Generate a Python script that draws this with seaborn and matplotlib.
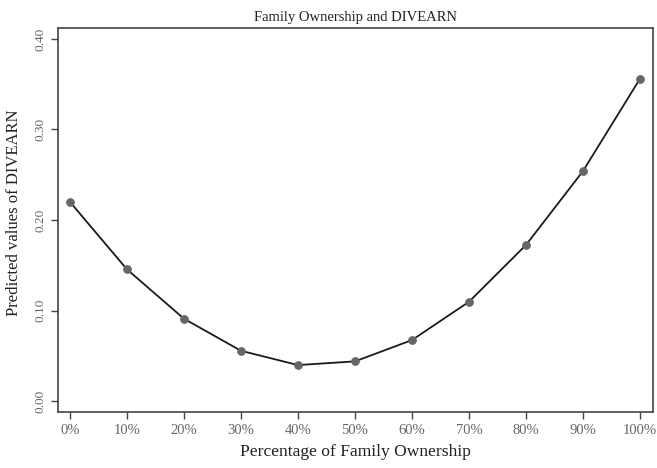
# Family ownership vs predicted DIVEARN
import matplotlib
matplotlib.use('Agg')
import matplotlib.pyplot as plt
import seaborn as sns
import pandas as pd

ownership = [0, 10, 20, 30, 40, 50, 60, 70, 80, 90, 100]
divearn = [0.220, 0.1455, 0.091, 0.0556, 0.0398, 0.0439, 0.0674, 0.1097, 0.1724, 0.254, 0.356]
x_labels = [f'{v}%' for v in ownership]
y_ticks = [0.0, 0.1, 0.2, 0.3, 0.4]

df = pd.DataFrame({'own': ownership, 'divearn': divearn})

sns.set_style('ticks')
plt.rcParams['font.family'] = ['Liberation Serif', 'DejaVu Serif']

fig = plt.figure(figsize=(6.57, 4.68), dpi=100)
ax = fig.add_axes([0.0883, 0.1197, 0.9057, 0.8203])

sns.lineplot(data=df, x='own', y='divearn', ax=ax, color='#1a1a1a', linewidth=1.3,
             marker='o', markersize=5.5, markerfacecolor='#666666', markeredgecolor='#666666')

ax.set_xlim(-2.1, 102.3)
ax.set_ylim(-0.012, 0.412)
ax.set_xticks(ownership)
ax.set_xticklabels(x_labels, fontsize=10.5)
ax.set_yticks(y_ticks)
ax.set_yticklabels([f'{v:.2f}' for v in y_ticks], rotation=90, va='center', fontsize=9.5)
ax.tick_params(axis='both', colors='#444444', labelcolor='#666666',
               length=5, width=1)

for s in ax.spines.values():
    s.set_visible(True)
    s.set_color('#444444')
    s.set_linewidth(1.2)

ax.set_title('Family Ownership and DIVEARN', fontsize=10.5, color='#222222', pad=5)
ax.set_xlabel('Percentage of Family Ownership', fontsize=12.6, color='#222222', labelpad=5)
ax.set_ylabel('Predicted values of DIVEARN', fontsize=12, color='#222222')
ax.yaxis.set_label_coords(-0.06, 0.52)

fig.savefig('out.png', dpi=100)
